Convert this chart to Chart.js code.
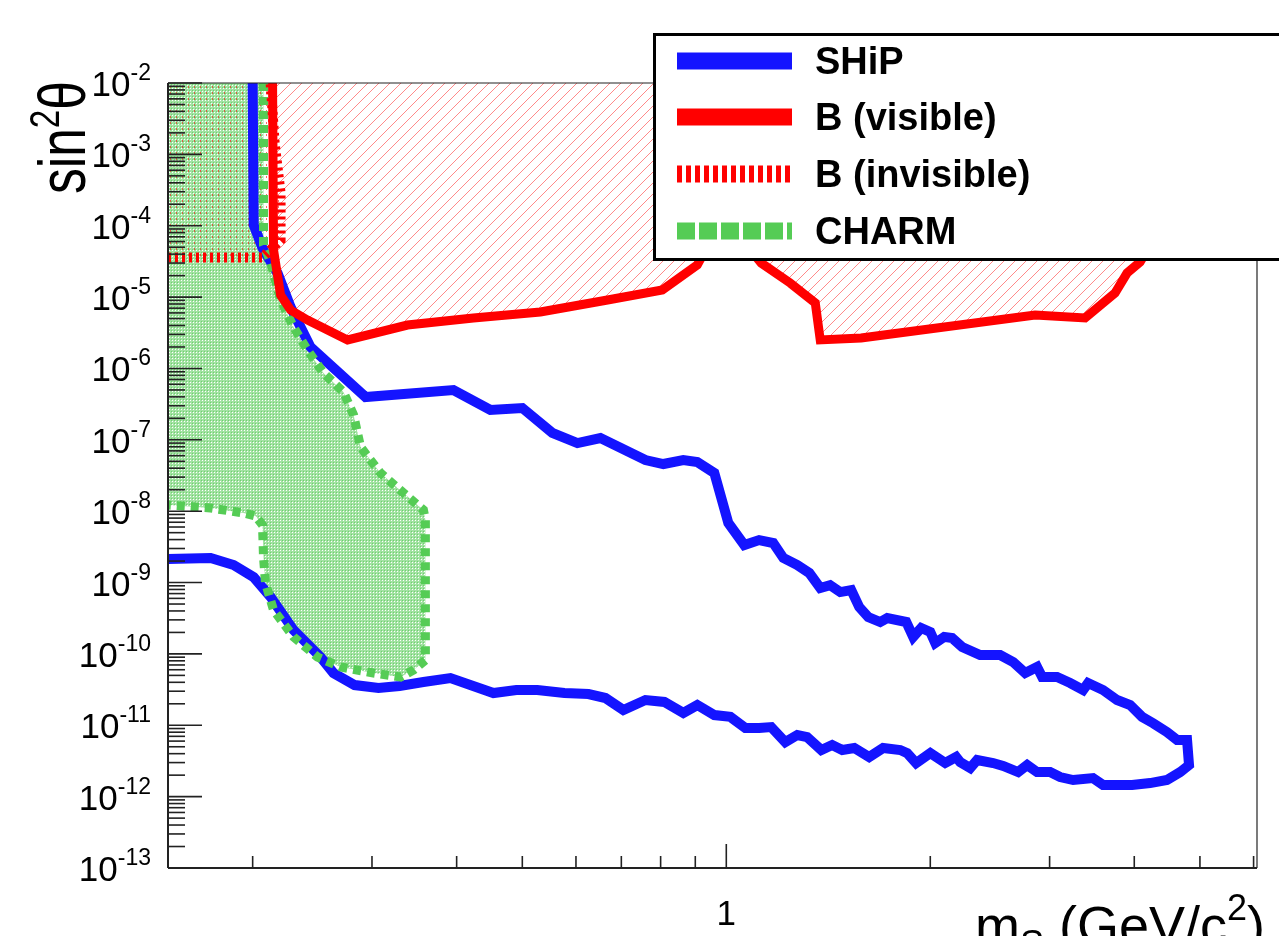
<!DOCTYPE html>
<html>
<head>
<meta charset="utf-8">
<script src="https://cdn.jsdelivr.net/npm/chart.js@4.4.1/dist/chart.umd.min.js"></script>
<style>
  body { margin: 0; background: #fff; }
  canvas { display: block; }
</style>
</head>
<body>
<canvas id="plot" width="1279" height="936"></canvas>
<script>
// SHiP sensitivity contour (closed curve, upper branch then lower branch)
const shipMass = [0.200, 0.2007, 0.2068, 0.2177, 0.2275, 0.2434, 0.2935, 0.3957, 0.4486, 0.500,
  0.5537, 0.603, 0.652, 0.7597, 0.8075, 0.8641, 0.9062, 0.9601, 1.007, 1.063,
  1.118, 1.173, 1.214, 1.273, 1.326, 1.376, 1.423, 1.473, 1.529, 1.571,
  1.620, 1.687, 1.728, 1.843, 1.887, 1.939, 2.000, 2.034, 2.097, 2.154,
  2.229, 2.369, 2.536, 2.651, 2.761, 2.875, 2.925, 3.077, 3.217, 3.362,
  3.419, 3.597, 3.773, 3.944, 4.108, 4.265, 4.470, 4.627, 4.786, 4.818,
  4.675, 4.470, 4.221, 3.971, 3.597, 3.477, 3.250, 3.109, 3.005, 2.875,
  2.780, 2.696, 2.562, 2.476, 2.345, 2.291, 2.214, 2.184, 2.104, 2.000,
  1.906, 1.849, 1.806, 1.704, 1.625, 1.545, 1.483, 1.433, 1.381, 1.316,
  1.273, 1.222, 1.165, 1.118, 1.067, 1.014, 0.9601, 0.9062, 0.8641, 0.8102,
  0.7597, 0.7048, 0.6632, 0.626, 0.577, 0.5262, 0.490, 0.4532, 0.3917, 0.3573,
  0.3294, 0.3067, 0.2828, 0.2632, 0.2519, 0.2298, 0.2126, 0.2007, 0.1875, 0.1734, 0.150];
const shipSin2 = [1e-2, 1.02e-4, 4.88e-5, 2.17e-5, 7.26e-6, 2.0e-6, 3.98e-7, 4.99e-7, 2.62e-7, 2.79e-7,
  1.25e-7, 9.0e-8, 1.06e-7, 5.21e-8, 4.58e-8, 5.21e-8, 4.89e-8, 3.43e-8, 6.82e-9, 3.36e-9,
  3.94e-9, 3.58e-9, 2.21e-9, 1.76e-9, 1.36e-9, 8.38e-10, 9.2e-10, 7.36e-10, 7.85e-10, 4.54e-10,
  3.29e-10, 2.80e-10, 3.18e-10, 2.80e-10, 1.73e-10, 2.31e-10, 2.03e-10, 1.42e-10, 1.73e-10, 1.67e-10,
  1.25e-10, 9.64e-11, 9.64e-11, 7.69e-11, 5.40e-11, 6.55e-11, 4.74e-11, 4.74e-11, 3.91e-11, 3.12e-11,
  3.91e-11, 3.12e-11, 2.26e-11, 1.92e-11, 1.31e-11, 1.07e-11, 8.04e-12, 6.21e-12, 6.21e-12, 2.77e-12,
  2.21e-12, 1.71e-12, 1.55e-12, 1.46e-12, 1.46e-12, 1.82e-12, 1.71e-12, 1.88e-12, 2.21e-12, 2.21e-12,
  2.77e-12, 2.21e-12, 2.69e-12, 2.96e-12, 3.26e-12, 2.52e-12, 3.05e-12, 3.59e-12, 2.96e-12, 4.08e-12,
  2.96e-12, 4.08e-12, 4.50e-12, 4.80e-12, 3.59e-12, 4.80e-12, 4.50e-12, 5.28e-12, 4.50e-12, 6.84e-12,
  7.30e-12, 5.82e-12, 9.44e-12, 9.14e-12, 9.14e-12, 1.31e-11, 1.39e-11, 1.92e-11, 1.49e-11, 2.12e-11,
  2.26e-11, 1.64e-11, 2.41e-11, 2.74e-11, 2.83e-11, 3.12e-11, 3.12e-11, 2.83e-11, 4.59e-11, 4.04e-11,
  3.55e-11, 3.33e-11, 3.66e-11, 5.40e-11, 9.04e-11, 2.16e-10, 6.27e-10, 1.19e-9, 1.76e-9, 2.21e-9, 2.14e-9];

// B (visible) exclusion boundary, region above it is excluded
const bVisMass = [0.2140, 0.2147, 0.2199, 0.2275, 0.241, 0.2761, 0.3385, 0.4234, 0.5316, 0.6679,
  0.8046, 0.9062, 0.9313, 1.014, 1.126, 1.243, 1.353, 1.376, 1.581, 2.856,
  3.385, 3.747, 3.903, 4.08, 4.44, 4.9];
const bVisSin2 = [1e-2, 4.57e-5, 1.07e-5, 6.59e-6, 4.77e-6, 2.51e-6, 4.06e-6, 5.09e-6, 6.18e-6, 9.1e-6,
  1.26e-5, 2.82e-5, 4.57e-5, 1.02e-4, 3.0e-5, 1.57e-5, 8.26e-6, 2.51e-6, 2.67e-6, 5.61e-6,
  5.09e-6, 1.14e-5, 2.17e-5, 3.10e-5, 1.2e-4, 1e-2];

// B (invisible) boundary
const bInvMass = [0.150, 0.2068, 0.2199, 0.2199, 0.2155, 0.2126];
const bInvSin2 = [3.6e-5, 3.6e-5, 6.31e-5, 2.88e-4, 1.44e-3, 1e-2];

// CHARM boundary (from top edge down, round the island, back to the left edge)
const charmMass = [0.2075, 0.2075, 0.2126, 0.2199, 0.2298, 0.241, 0.2544, 0.2723, 0.2818, 0.2886,
  0.3087, 0.3339, 0.3573, 0.3597, 0.3597, 0.3455, 0.3306, 0.3015, 0.2696, 0.2493,
  0.2298, 0.2147, 0.2089, 0.2075, 0.2068, 0.2020, 0.1939, 0.1734, 0.150];
const charmSin2 = [1e-2, 5.37e-5, 3.10e-5, 9.1e-6, 3.81e-6, 1.81e-6, 8.63e-7, 4.68e-7, 2.23e-7, 7.93e-8,
  3.43e-8, 1.80e-8, 1.04e-8, 7.52e-9, 8.2e-11, 5.94e-11, 4.74e-11, 5.40e-11, 6.55e-11, 9.04e-11,
  1.73e-10, 4.12e-10, 9.84e-10, 2.28e-9, 6.40e-9, 8.55e-9, 9.42e-9, 1.11e-8, 1.22e-8];

const xRange = [0.15, 6.07];
const yRange = [1e-13, 1e-2];
const yDecades = [-13, -12, -11, -10, -9, -8, -7, -6, -5, -4, -3, -2];
const xMinorTicks = [0.2, 0.3, 0.4, 0.5, 0.6, 0.7, 0.8, 0.9, 2, 3, 4, 5, 6];
const xMajorTicks = [1];

const legendNames = ['SHiP', 'B (visible)', 'B (invisible)', 'CHARM'];

const BLUE = '#1414ff';
const RED = '#ff0000';
const GREEN = '#55cc55';
const FONT = '"Liberation Sans", Arial, sans-serif';

function pts(xs, ys) {
  return xs.map((v, i) => ({ x: v, y: ys[i] }));
}

// fill patterns
function hatchPattern() {
  const c = document.createElement('canvas');
  c.width = 11; c.height = 11;
  const g = c.getContext('2d');
  g.strokeStyle = '#ff8a8a';
  g.lineWidth = 1;
  for (const o of [-11, 0, 11]) {
    g.beginPath();
    g.moveTo(o, 11); g.lineTo(o + 11, 0);
    g.stroke();
  }
  return g.createPattern(c, 'repeat');
}
function dotPattern() {
  const c = document.createElement('canvas');
  c.width = 3; c.height = 3;
  const g = c.getContext('2d');
  g.fillStyle = '#a2e2a2';
  g.fillRect(0, 0, 3, 3);
  g.fillStyle = '#ffffff';
  g.fillRect(1, 1, 1, 1);
  g.fillStyle = '#6fd06f';
  g.fillRect(0, 0, 1, 1);
  return g.createPattern(c, 'repeat');
}
function redDotPattern() {
  const c = document.createElement('canvas');
  c.width = 6; c.height = 6;
  const g = c.getContext('2d');
  g.fillStyle = 'rgba(255,0,0,0.6)';
  g.fillRect(2, 2, 1, 2);
  return g.createPattern(c, 'repeat');
}

function withTop(xs, ys, extraX) {
  // add a corner on the top edge to close the region
  return pts(xs.concat([extraX]), ys.concat([yRange[1]]));
}

// axes, ticks, labels, titles and legend drawn ROOT-style
const framePlugin = {
  id: 'frame',
  afterDraw(chart) {
    const { ctx, chartArea: a, scales: { x, y } } = chart;
    ctx.save();
    ctx.strokeStyle = '#222';
    const seg = (x1, y1, x2, y2) => { ctx.beginPath(); ctx.moveTo(x1, y1); ctx.lineTo(x2, y2); ctx.stroke(); };

    // frame
    ctx.lineWidth = 1.2;
    seg(a.left, a.top, a.right, a.top);
    seg(a.right, a.top, a.right, a.bottom);
    ctx.lineWidth = 2;
    seg(a.left, a.top, a.left, a.bottom);
    seg(a.left, a.bottom, a.right, a.bottom);

    // y ticks
    ctx.lineWidth = 1.6;
    yDecades.forEach(e => {
      for (let k = 1; k <= 9; k++) {
        const v = Number(k + 'e' + e);
        if (v > yRange[1] * 1.0001) continue;
        const py = y.getPixelForValue(v);
        seg(a.left, py, a.left + (k === 1 ? 34 : 17), py);
      }
    });
    // x ticks
    xMinorTicks.forEach(v => { const px = x.getPixelForValue(v); seg(px, a.bottom, px, a.bottom - 12); });
    xMajorTicks.forEach(v => { const px = x.getPixelForValue(v); seg(px, a.bottom, px, a.bottom - 24); });

    // y tick labels 10^n
    ctx.fillStyle = '#000';
    ctx.textBaseline = 'alphabetic';
    yDecades.forEach(e => {
      const py = y.getPixelForValue(Number('1e' + e));
      ctx.font = '23px ' + FONT;
      const sup = String(e);
      const sw = ctx.measureText(sup).width;
      ctx.textAlign = 'right';
      ctx.fillText(sup, 151, py - 3);
      ctx.font = '35px ' + FONT;
      ctx.fillText('10', 151 - sw, py + 13);
    });
    // x tick labels
    ctx.font = '35px ' + FONT;
    ctx.textAlign = 'center';
    xMajorTicks.forEach(v => ctx.fillText(String(v), x.getPixelForValue(v), 925));

    // y title
    ctx.save();
    ctx.translate(85, 194);
    ctx.rotate(-Math.PI / 2);
    ctx.scale(0.92, 1.2);
    ctx.textAlign = 'left';
    ctx.font = '56px ' + FONT;
    let w = ctx.measureText('sin').width;
    ctx.fillText('sin', 0, 0);
    ctx.font = '36px ' + FONT;
    ctx.fillText('2', w, -22);
    w += ctx.measureText('2').width;
    ctx.font = '56px ' + FONT;
    ctx.fillText('\u03b8', w, 0);
    ctx.restore();

    // x title
    ctx.textAlign = 'left';
    let cx = 975;
    const base = 944;
    ctx.font = '54px ' + FONT;
    ctx.fillText('m', cx, base); cx += ctx.measureText('m').width;
    ctx.font = '36px ' + FONT;
    ctx.fillText('S', cx, base + 12); cx += ctx.measureText('S').width;
    ctx.font = '54px ' + FONT;
    ctx.fillText(' (GeV/c', cx, base); cx += ctx.measureText(' (GeV/c').width;
    ctx.font = '36px ' + FONT;
    ctx.fillText('2', cx, base - 24); cx += ctx.measureText('2').width;
    ctx.font = '54px ' + FONT;
    ctx.fillText(')', cx, base);

    // legend box
    ctx.fillStyle = '#fff';
    ctx.fillRect(653, 33, 640, 227);
    ctx.strokeStyle = '#000';
    ctx.lineWidth = 3;
    ctx.strokeRect(654.5, 34.5, 640, 225);
    const rows = [61, 117, 174, 231];
    const x0 = 677, x1 = 792, th = 17;
    ctx.fillStyle = BLUE; ctx.fillRect(x0, rows[0] - th / 2, x1 - x0, th);
    ctx.fillStyle = RED; ctx.fillRect(x0, rows[1] - th / 2, x1 - x0, th);
    for (let px = x0; px < x1; px += 9) { ctx.fillRect(px, rows[2] - th / 2, Math.min(5, x1 - px), th); }
    ctx.fillStyle = GREEN;
    for (let px = x0; px < x1; px += 22) { ctx.fillRect(px, rows[3] - th / 2, Math.min(18, x1 - px), th); }
    ctx.fillStyle = '#000';
    ctx.font = 'bold 38px ' + FONT;
    ctx.textAlign = 'left';
    legendNames.forEach((t, i) => ctx.fillText(t, 815, rows[i] + 13));
    ctx.restore();
  }
};

const common = { pointRadius: 0, tension: 0, clip: 0, showLine: true };

new Chart(document.getElementById('plot'), {
  type: 'line',
  data: {
    datasets: [
      Object.assign({ label: 'B (visible)', data: pts(bVisMass, bVisSin2), borderColor: RED, borderWidth: 9, fill: false, order: 0 }, common),
      Object.assign({ label: 'B (invisible)', data: pts(bInvMass, bInvSin2), borderColor: RED, borderWidth: 10, borderDash: [3, 4], fill: false, order: 1 }, common),
      Object.assign({ label: 'CHARM', data: pts(charmMass, charmSin2), borderColor: GREEN, borderWidth: 9, borderDash: [8, 6], fill: false, order: 2 }, common),
      Object.assign({ label: 'SHiP', data: pts(shipMass, shipSin2), borderColor: BLUE, borderWidth: 10, fill: false, order: 3 }, common),
      Object.assign({ label: 'B visible area', data: pts(bVisMass, bVisSin2), borderWidth: 0, borderColor: 'rgba(0,0,0,0)', backgroundColor: hatchPattern(), fill: 'shape', order: 4 }, common),
      Object.assign({ label: 'B invisible area', data: withTop(bInvMass, bInvSin2, xRange[0]), borderWidth: 0, borderColor: 'rgba(0,0,0,0)', backgroundColor: redDotPattern(), fill: 'shape', order: 5 }, common),
      Object.assign({ label: 'CHARM area', data: withTop(charmMass, charmSin2, xRange[0]), borderWidth: 0, borderColor: 'rgba(0,0,0,0)', backgroundColor: dotPattern(), fill: 'shape', order: 6 }, common)
    ]
  },
  options: {
    responsive: false,
    animation: false,
    events: [],
    layout: { padding: { left: 168, top: 83, right: 22, bottom: 68 } },
    plugins: { legend: { display: false }, tooltip: { enabled: false } },
    scales: {
      x: { type: 'logarithmic', min: xRange[0], max: xRange[1], display: false },
      y: { type: 'logarithmic', min: yRange[0], max: yRange[1], display: false }
    }
  },
  plugins: [framePlugin]
});
</script>
</body>
</html>
